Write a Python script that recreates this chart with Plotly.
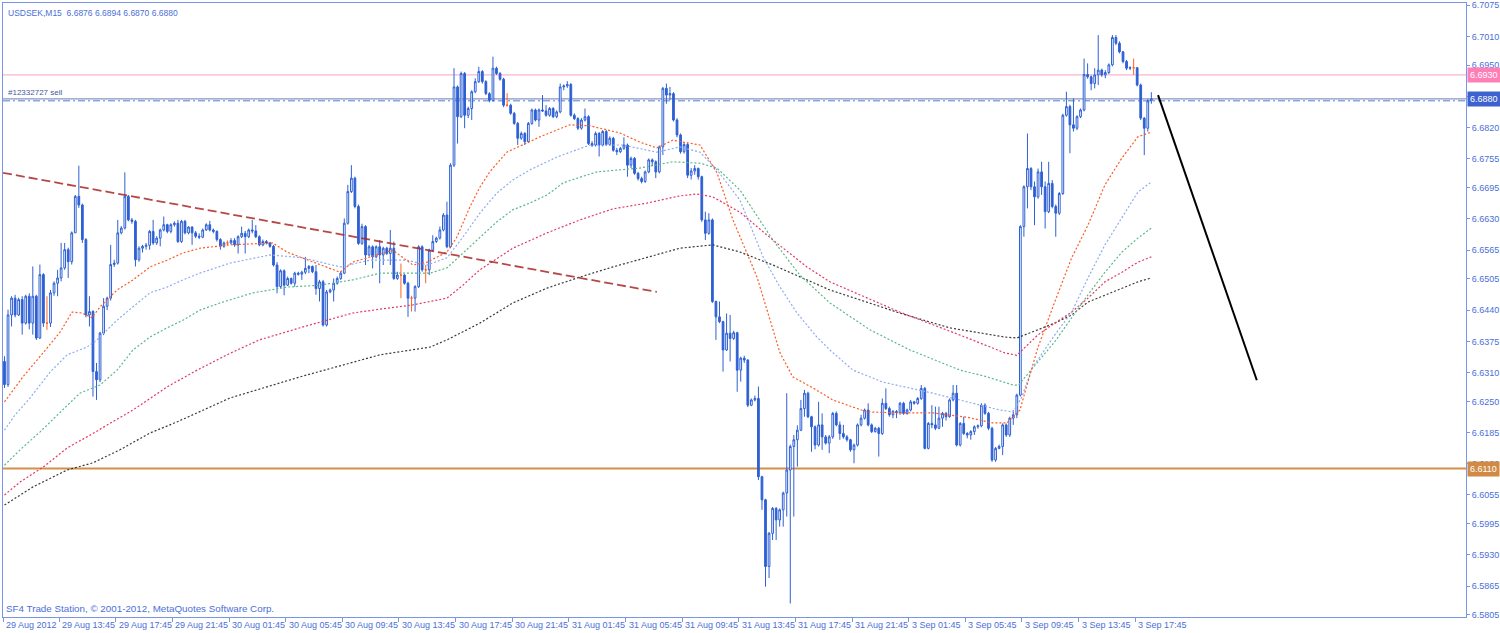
import plotly.graph_objects as go

# ---------------- data (USDSEK M15) ----------------
opens = [6.6333, 6.6285, 6.6430, 6.6465, 6.6430, 6.6462, 6.6413, 6.6469, 6.6413, 6.6469,
 6.6382, 6.6514, 6.6413, 6.6413, 6.6476, 6.6496, 6.6507, 6.6528, 6.6566, 6.6541,
 6.6601, 6.6677, 6.6659, 6.6587, 6.6430, 6.6437, 6.6312, 6.6295, 6.6392, 6.6448,
 6.6465, 6.6535, 6.6538, 6.6601, 6.6611, 6.6677, 6.6628, 6.6625, 6.6545, 6.6569,
 6.6573, 6.6575, 6.6604, 6.6580, 6.6590, 6.6607, 6.6618, 6.6604, 6.6618, 6.6621,
 6.6583, 6.6625, 6.6601, 6.6613, 6.6601, 6.6594, 6.6592, 6.6607, 6.6618, 6.6607,
 6.6604, 6.6587, 6.6573, 6.6580, 6.6580, 6.6585, 6.6576, 6.6593, 6.6600, 6.6593,
 6.6607, 6.6605, 6.6593, 6.6576, 6.6583, 6.6580, 6.6573, 6.6534, 6.6489, 6.6522,
 6.6492, 6.6506, 6.6496, 6.6517, 6.6515, 6.6519, 6.6527, 6.6531, 6.6520, 6.6485,
 6.6499, 6.6409, 6.6478, 6.6482, 6.6496, 6.6506, 6.6517, 6.6621, 6.6687, 6.6715,
 6.6656, 6.6579, 6.6614, 6.6555, 6.6572, 6.6551, 6.6572, 6.6555, 6.6569, 6.6558,
 6.6569, 6.6506, 6.6513, 6.6513, 6.6496, 6.6465, 6.6465, 6.6489, 6.6572, 6.6524,
 6.6524, 6.6565, 6.6583, 6.6590, 6.6607, 6.6638, 6.6572, 6.6742, 6.6905, 6.6843,
 6.6933, 6.6846, 6.6860, 6.6895, 6.6916, 6.6937, 6.6916, 6.6891, 6.6877, 6.6944,
 6.6933, 6.6921, 6.6867, 6.6867, 6.6850, 6.6829, 6.6798, 6.6808, 6.6791, 6.6829,
 6.6857, 6.6836, 6.6857, 6.6855, 6.6846, 6.6860, 6.6843, 6.6853, 6.6905, 6.6907,
 6.6910, 6.6846, 6.6839, 6.6819, 6.6836, 6.6843, 6.6787, 6.6784, 6.6808, 6.6784,
 6.6812, 6.6785, 6.6798, 6.6773, 6.6770, 6.6777, 6.6784, 6.6742, 6.6756, 6.6725,
 6.6714, 6.6708, 6.6728, 6.6753, 6.6749, 6.6728, 6.6780, 6.6902, 6.6888, 6.6891,
 6.6836, 6.6805, 6.6770, 6.6785, 6.6721, 6.6730, 6.6735, 6.6718, 6.6628, 6.6600,
 6.6628, 6.6458, 6.6426, 6.6416, 6.6357, 6.6392, 6.6381, 6.6393, 6.6315, 6.6340,
 6.6336, 6.6242, 6.6253, 6.6256, 6.6093, 6.6045, 6.5906, 6.5975, 6.6027, 6.6003,
 6.6024, 6.6059, 6.6107, 6.6156, 6.6170, 6.6190, 6.6235, 6.6267, 6.6218, 6.6197,
 6.6159, 6.6201, 6.6176, 6.6163, 6.6176, 6.6225, 6.6201, 6.6183, 6.6176, 6.6170,
 6.6149, 6.6159, 6.6201, 6.6215, 6.6232, 6.6201, 6.6187, 6.6194, 6.6183, 6.6246,
 6.6235, 6.6222, 6.6229, 6.6227, 6.6246, 6.6225, 6.6232, 6.6249, 6.6246, 6.6256,
 6.6277, 6.6152, 6.6204, 6.6201, 6.6194, 6.6215, 6.6225, 6.6218, 6.6253, 6.6267,
 6.6159, 6.6204, 6.6183, 6.6180, 6.6187, 6.6197, 6.6199, 6.6242, 6.6225, 6.6194,
 6.6128, 6.6152, 6.6156, 6.6201, 6.6180, 6.6215, 6.6222, 6.6263, 6.6614, 6.6697,
 6.6735, 6.6697, 6.6676, 6.6728, 6.6697, 6.6645, 6.6704, 6.6656, 6.6642, 6.6683,
 6.6846, 6.6864, 6.6826, 6.6819, 6.6843, 6.6857, 6.6931, 6.6926, 6.6912, 6.6930,
 6.6940, 6.6930, 6.6935, 6.6951, 6.7008, 6.6996, 6.6978, 6.6958, 6.6944, 6.6945,
 6.6945, 6.6909, 6.6840, 6.6819, 6.6876]

highs = [6.6344, 6.6441, 6.6469, 6.6472, 6.6466, 6.6469, 6.6472, 6.6475, 6.6531, 6.6472,
 6.6535, 6.6517, 6.6469, 6.6482, 6.6500, 6.6524, 6.6580, 6.6580, 6.6570, 6.6604,
 6.6680, 6.6741, 6.6662, 6.6590, 6.6469, 6.6440, 6.6330, 6.6395, 6.6465, 6.6468,
 6.6576, 6.6545, 6.6628, 6.6615, 6.6727, 6.6680, 6.6632, 6.6628, 6.6573, 6.6576,
 6.6580, 6.6607, 6.6628, 6.6594, 6.6610, 6.6635, 6.6620, 6.6621, 6.6625, 6.6628,
 6.6628, 6.6628, 6.6615, 6.6615, 6.6605, 6.6600, 6.6610, 6.6621, 6.6626, 6.6610,
 6.6606, 6.6590, 6.6583, 6.6585, 6.6590, 6.6590, 6.6596, 6.6614, 6.6605, 6.6610,
 6.6628, 6.6617, 6.6596, 6.6587, 6.6586, 6.6582, 6.6576, 6.6540, 6.6525, 6.6525,
 6.6510, 6.6508, 6.6520, 6.6520, 6.6522, 6.6551, 6.6534, 6.6533, 6.6534, 6.6503,
 6.6503, 6.6482, 6.6485, 6.6506, 6.6510, 6.6520, 6.6631, 6.6701, 6.6742, 6.6718,
 6.6660, 6.6620, 6.6617, 6.6576, 6.6575, 6.6575, 6.6586, 6.6572, 6.6572, 6.6607,
 6.6583, 6.6520, 6.6537, 6.6515, 6.6499, 6.6470, 6.6492, 6.6575, 6.6575, 6.6534,
 6.6568, 6.6596, 6.6593, 6.6614, 6.6642, 6.6666, 6.6746, 6.6944, 6.6908, 6.6937,
 6.6936, 6.6864, 6.6898, 6.6923, 6.6947, 6.6940, 6.6919, 6.6894, 6.6968, 6.6947,
 6.6936, 6.6924, 6.6892, 6.6870, 6.6853, 6.6832, 6.6812, 6.6811, 6.6832, 6.6860,
 6.6860, 6.6860, 6.6888, 6.6867, 6.6863, 6.6863, 6.6856, 6.6912, 6.6910, 6.6917,
 6.6913, 6.6850, 6.6842, 6.6840, 6.6860, 6.6846, 6.6792, 6.6812, 6.6811, 6.6815,
 6.6815, 6.6802, 6.6801, 6.6778, 6.6780, 6.6800, 6.6787, 6.6760, 6.6759, 6.6728,
 6.6718, 6.6731, 6.6756, 6.6756, 6.6752, 6.6783, 6.6905, 6.6912, 6.6905, 6.6894,
 6.6840, 6.6808, 6.6790, 6.6788, 6.6736, 6.6742, 6.6737, 6.6720, 6.6645, 6.6642,
 6.6631, 6.6460, 6.6458, 6.6418, 6.6433, 6.6430, 6.6397, 6.6395, 6.6343, 6.6345,
 6.6338, 6.6256, 6.6262, 6.6281, 6.6095, 6.6047, 6.5978, 6.6030, 6.6030, 6.6027,
 6.6062, 6.6267, 6.6160, 6.6180, 6.6200, 6.6253, 6.6274, 6.6270, 6.6220, 6.6200,
 6.6249, 6.6225, 6.6180, 6.6180, 6.6228, 6.6229, 6.6208, 6.6201, 6.6180, 6.6172,
 6.6162, 6.6204, 6.6222, 6.6235, 6.6246, 6.6204, 6.6197, 6.6197, 6.6256, 6.6277,
 6.6239, 6.6232, 6.6232, 6.6249, 6.6249, 6.6235, 6.6253, 6.6251, 6.6259, 6.6284,
 6.6280, 6.6207, 6.6242, 6.6239, 6.6239, 6.6228, 6.6228, 6.6256, 6.6284, 6.6284,
 6.6207, 6.6218, 6.6186, 6.6190, 6.6200, 6.6202, 6.6246, 6.6246, 6.6228, 6.6197,
 6.6155, 6.6160, 6.6204, 6.6204, 6.6218, 6.6232, 6.6266, 6.6617, 6.6700, 6.6808,
 6.6738, 6.6708, 6.6735, 6.6749, 6.6708, 6.6749, 6.6711, 6.6660, 6.6686, 6.6849,
 6.6895, 6.6868, 6.6881, 6.6846, 6.6860, 6.6964, 6.6954, 6.6929, 6.6944, 6.7013,
 6.6943, 6.6940, 6.6954, 6.7013, 6.7013, 6.7000, 6.6980, 6.6961, 6.6948, 6.6964,
 6.6946, 6.6912, 6.6842, 6.6880, 6.6894]

lows = [6.6278, 6.6280, 6.6406, 6.6425, 6.6428, 6.6389, 6.6410, 6.6400, 6.6389, 6.6378,
 6.6380, 6.6405, 6.6399, 6.6405, 6.6470, 6.6469, 6.6500, 6.6524, 6.6507, 6.6535,
 6.6601, 6.6653, 6.6580, 6.6425, 6.6406, 6.6260, 6.6253, 6.6290, 6.6388, 6.6440,
 6.6460, 6.6530, 6.6535, 6.6598, 6.6608, 6.6625, 6.6620, 6.6531, 6.6541, 6.6560,
 6.6566, 6.6566, 6.6576, 6.6576, 6.6573, 6.6604, 6.6600, 6.6600, 6.6614, 6.6580,
 6.6580, 6.6598, 6.6598, 6.6576, 6.6590, 6.6588, 6.6590, 6.6605, 6.6604, 6.6600,
 6.6583, 6.6566, 6.6570, 6.6575, 6.6577, 6.6572, 6.6558, 6.6590, 6.6558, 6.6590,
 6.6600, 6.6590, 6.6573, 6.6573, 6.6577, 6.6570, 6.6531, 6.6475, 6.6485, 6.6471,
 6.6490, 6.6493, 6.6489, 6.6512, 6.6503, 6.6515, 6.6517, 6.6517, 6.6472, 6.6458,
 6.6406, 6.6406, 6.6475, 6.6458, 6.6493, 6.6503, 6.6515, 6.6618, 6.6684, 6.6652,
 6.6576, 6.6576, 6.6534, 6.6552, 6.6527, 6.6548, 6.6496, 6.6534, 6.6555, 6.6534,
 6.6503, 6.6503, 6.6465, 6.6493, 6.6426, 6.6437, 6.6437, 6.6486, 6.6520, 6.6496,
 6.6513, 6.6562, 6.6580, 6.6587, 6.6604, 6.6569, 6.6569, 6.6738, 6.6787, 6.6840,
 6.6819, 6.6840, 6.6836, 6.6892, 6.6913, 6.6912, 6.6888, 6.6873, 6.6874, 6.6930,
 6.6918, 6.6863, 6.6864, 6.6847, 6.6826, 6.6784, 6.6795, 6.6784, 6.6788, 6.6826,
 6.6833, 6.6822, 6.6853, 6.6843, 6.6843, 6.6840, 6.6840, 6.6850, 6.6898, 6.6903,
 6.6843, 6.6836, 6.6815, 6.6816, 6.6833, 6.6784, 6.6780, 6.6781, 6.6760, 6.6781,
 6.6782, 6.6782, 6.6770, 6.6763, 6.6767, 6.6774, 6.6718, 6.6736, 6.6722, 6.6710,
 6.6704, 6.6705, 6.6725, 6.6740, 6.6715, 6.6725, 6.6763, 6.6870, 6.6878, 6.6833,
 6.6800, 6.6766, 6.6766, 6.6715, 6.6712, 6.6722, 6.6712, 6.6624, 6.6586, 6.6597,
 6.6455, 6.6378, 6.6413, 6.6312, 6.6355, 6.6333, 6.6378, 6.6270, 6.6291, 6.6330,
 6.6238, 6.6240, 6.6250, 6.6086, 6.6024, 6.5864, 6.5882, 6.5961, 6.5961, 6.5989,
 6.5989, 6.6010, 6.5829, 6.6010, 6.6114, 6.6188, 6.6218, 6.6215, 6.6145, 6.6150,
 6.6156, 6.6149, 6.6160, 6.6142, 6.6172, 6.6198, 6.6170, 6.6172, 6.6166, 6.6145,
 6.6121, 6.6156, 6.6198, 6.6212, 6.6198, 6.6184, 6.6185, 6.6135, 6.6180, 6.6232,
 6.6218, 6.6215, 6.6215, 6.6222, 6.6222, 6.6222, 6.6229, 6.6243, 6.6243, 6.6253,
 6.6150, 6.6150, 6.6194, 6.6190, 6.6192, 6.6197, 6.6210, 6.6216, 6.6250, 6.6156,
 6.6156, 6.6180, 6.6173, 6.6170, 6.6180, 6.6193, 6.6196, 6.6222, 6.6190, 6.6124,
 6.6124, 6.6150, 6.6138, 6.6176, 6.6176, 6.6201, 6.6215, 6.6260, 6.6593, 6.6652,
 6.6690, 6.6617, 6.6672, 6.6680, 6.6610, 6.6642, 6.6652, 6.6593, 6.6638, 6.6680,
 6.6843, 6.6767, 6.6812, 6.6815, 6.6840, 6.6854, 6.6922, 6.6898, 6.6902, 6.6909,
 6.6926, 6.6923, 6.6932, 6.6948, 6.6992, 6.6975, 6.6954, 6.6940, 6.6940, 6.6930,
 6.6906, 6.6836, 6.6763, 6.6812, 6.6870]

closes = [6.6285, 6.6430, 6.6465, 6.6430, 6.6462, 6.6413, 6.6469, 6.6413, 6.6469, 6.6382,
 6.6514, 6.6413, 6.6413, 6.6476, 6.6496, 6.6507, 6.6528, 6.6566, 6.6541, 6.6601,
 6.6677, 6.6659, 6.6587, 6.6430, 6.6437, 6.6312, 6.6295, 6.6392, 6.6448, 6.6465,
 6.6535, 6.6538, 6.6601, 6.6611, 6.6677, 6.6628, 6.6625, 6.6545, 6.6569, 6.6573,
 6.6575, 6.6604, 6.6580, 6.6590, 6.6607, 6.6618, 6.6604, 6.6618, 6.6621, 6.6583,
 6.6625, 6.6601, 6.6613, 6.6601, 6.6594, 6.6592, 6.6607, 6.6618, 6.6607, 6.6604,
 6.6587, 6.6573, 6.6580, 6.6580, 6.6585, 6.6576, 6.6593, 6.6600, 6.6593, 6.6607,
 6.6605, 6.6593, 6.6576, 6.6583, 6.6580, 6.6573, 6.6534, 6.6489, 6.6522, 6.6492,
 6.6506, 6.6496, 6.6517, 6.6515, 6.6519, 6.6527, 6.6531, 6.6520, 6.6485, 6.6499,
 6.6409, 6.6478, 6.6482, 6.6496, 6.6506, 6.6517, 6.6621, 6.6687, 6.6715, 6.6656,
 6.6579, 6.6614, 6.6555, 6.6572, 6.6551, 6.6572, 6.6555, 6.6569, 6.6558, 6.6569,
 6.6506, 6.6513, 6.6513, 6.6496, 6.6465, 6.6465, 6.6489, 6.6572, 6.6524, 6.6524,
 6.6565, 6.6583, 6.6590, 6.6607, 6.6638, 6.6572, 6.6742, 6.6905, 6.6843, 6.6933,
 6.6846, 6.6860, 6.6895, 6.6916, 6.6937, 6.6916, 6.6891, 6.6877, 6.6944, 6.6933,
 6.6921, 6.6867, 6.6867, 6.6850, 6.6829, 6.6798, 6.6808, 6.6791, 6.6829, 6.6857,
 6.6836, 6.6857, 6.6855, 6.6846, 6.6860, 6.6843, 6.6853, 6.6905, 6.6907, 6.6910,
 6.6846, 6.6839, 6.6819, 6.6836, 6.6843, 6.6787, 6.6784, 6.6808, 6.6784, 6.6812,
 6.6785, 6.6798, 6.6773, 6.6770, 6.6777, 6.6784, 6.6742, 6.6756, 6.6725, 6.6714,
 6.6708, 6.6728, 6.6753, 6.6749, 6.6728, 6.6780, 6.6902, 6.6888, 6.6891, 6.6836,
 6.6805, 6.6770, 6.6785, 6.6721, 6.6730, 6.6735, 6.6718, 6.6628, 6.6600, 6.6628,
 6.6458, 6.6426, 6.6416, 6.6357, 6.6392, 6.6381, 6.6393, 6.6315, 6.6340, 6.6336,
 6.6242, 6.6253, 6.6256, 6.6093, 6.6045, 6.5906, 6.5975, 6.6027, 6.6003, 6.6024,
 6.6059, 6.6107, 6.6156, 6.6170, 6.6190, 6.6235, 6.6267, 6.6218, 6.6197, 6.6159,
 6.6201, 6.6176, 6.6163, 6.6176, 6.6225, 6.6201, 6.6183, 6.6176, 6.6170, 6.6149,
 6.6159, 6.6201, 6.6215, 6.6232, 6.6201, 6.6187, 6.6194, 6.6183, 6.6246, 6.6235,
 6.6222, 6.6229, 6.6227, 6.6246, 6.6225, 6.6232, 6.6249, 6.6246, 6.6256, 6.6277,
 6.6152, 6.6204, 6.6201, 6.6194, 6.6215, 6.6225, 6.6218, 6.6253, 6.6267, 6.6159,
 6.6204, 6.6183, 6.6180, 6.6187, 6.6197, 6.6199, 6.6242, 6.6225, 6.6194, 6.6128,
 6.6152, 6.6156, 6.6201, 6.6180, 6.6215, 6.6222, 6.6263, 6.6614, 6.6697, 6.6735,
 6.6697, 6.6676, 6.6728, 6.6697, 6.6645, 6.6704, 6.6656, 6.6642, 6.6683, 6.6846,
 6.6864, 6.6826, 6.6819, 6.6843, 6.6857, 6.6931, 6.6926, 6.6912, 6.6930, 6.6940,
 6.6930, 6.6935, 6.6951, 6.7008, 6.6996, 6.6978, 6.6958, 6.6944, 6.6945, 6.6945,
 6.6909, 6.6840, 6.6819, 6.6876, 6.6880]

# time-axis labels (every 16 bars)
tick_bars = [0, 16, 32, 48, 64, 80, 96, 112, 128, 144, 160, 176, 192, 208, 224, 240, 256, 272, 288, 304, 320]
tick_labels = ["29 Aug 2012", "29 Aug 13:45", "29 Aug 17:45", "29 Aug 21:45", "30 Aug 01:45",
               "30 Aug 05:45", "30 Aug 09:45", "30 Aug 13:45", "30 Aug 17:45", "30 Aug 21:45",
               "31 Aug 01:45", "31 Aug 05:45", "31 Aug 09:45", "31 Aug 13:45", "31 Aug 17:45",
               "31 Aug 21:45", "3 Sep 01:45", "3 Sep 05:45", "3 Sep 09:45", "3 Sep 13:45",
               "3 Sep 17:45"]

price_ticks = [6.7075, 6.7010, 6.6950, 6.6885, 6.6820, 6.6755, 6.6695, 6.6630, 6.6565, 6.6505,
               6.6440, 6.6375, 6.6310, 6.6250, 6.6185, 6.6120, 6.6055, 6.5995, 6.5930, 6.5865, 6.5805]

# moving averages (sampled along the drawn lines: bar position, price)
ma_orange_x = [0, 5.2, 10.9, 15.7, 19.1, 21.9, 24.7, 27, 31.8, 36.3, 41.1, 45.9, 50.4, 55.2, 63.7, 75.8, 79.8, 89.1, 94.8, 98.4,
               103.2, 109.7, 115.4, 119.4, 125, 127.8, 131.5, 134.3, 137.1, 141.9, 151.3, 159.7, 165.4, 173.9, 179.5, 184.3, 188.8, 196.5, 201.3, 205.8,
               212.6, 216.2, 219.1, 222.7, 228.4, 234, 243.6, 252.9, 262.3, 271.9, 279.2, 283.2, 286.9, 288.3, 291.9, 296.7, 301.5, 306.1, 310.9, 315.7,
               320.2, 324]
ma_orange_y = [6.6249, 6.6301, 6.6351, 6.6394, 6.6436, 6.6434, 6.6424, 6.6447, 6.6482, 6.6503, 6.6530, 6.6544, 6.6559, 6.6569, 6.6576, 6.6580, 6.6561, 6.6534, 6.6519, 6.6540,
               6.6551, 6.6565, 6.6534, 6.6540, 6.6561, 6.6592, 6.6655, 6.6696, 6.6728, 6.6769, 6.6801, 6.6826, 6.6824, 6.6809, 6.6790, 6.6778, 6.6794, 6.6784, 6.6726, 6.6628,
               6.6509, 6.6419, 6.6351, 6.6301, 6.6278, 6.6253, 6.6228, 6.6226, 6.6226, 6.6217, 6.6205, 6.6205, 6.6232, 6.6269, 6.6361, 6.6457, 6.6549, 6.6617, 6.6701, 6.6757,
               6.6801, 6.6811]

ma_blue_x = [0, 3, 7.2, 12.9, 17.7, 23.3, 26.1, 31.8, 36.3, 41.1, 45.9, 50.4, 55.2, 63.7, 75, 84.3, 94.8, 103.2, 113.7, 119.4,
             125, 129.5, 134.3, 139.1, 143.6, 148.4, 156.1, 165.4, 174.7, 184.3, 190.8, 196.5, 201.3, 207.8, 214.3, 219.1, 223.9, 229.5, 233.2, 239.7,
             248.2, 257.8, 262.3, 271.9, 281.2, 284.9, 287.3, 290.3, 296.7, 301.5, 306.1, 310.9, 315.7, 320.2, 324]
ma_blue_y = [6.6190, 6.6222, 6.6257, 6.6311, 6.6347, 6.6363, 6.6378, 6.6419, 6.6447, 6.6476, 6.6488, 6.6503, 6.6517, 6.6538, 6.6555, 6.6549, 6.6530, 6.6544, 6.6544, 6.6534,
             6.6549, 6.6592, 6.6642, 6.6684, 6.6711, 6.6732, 6.6759, 6.6784, 6.6784, 6.6769, 6.6780, 6.6769, 6.6732, 6.6669, 6.6551, 6.6488, 6.6434, 6.6384, 6.6357, 6.6315,
             6.6290, 6.6274, 6.6267, 6.6249, 6.6232, 6.6228, 6.6257, 6.6319, 6.6388, 6.6436, 6.6507, 6.6576, 6.6632, 6.6686, 6.6707]

ma_green_x = [0, 4.4, 10, 15.7, 21.3, 27, 31.8, 36.3, 41.1, 45.9, 50.4, 55.2, 60.9, 70.2, 79.8, 89.1, 98.4, 106.1, 120.2, 125,
              129.5, 134.3, 139.1, 143.6, 148.4, 153.3, 157.8, 162.6, 167.4, 179.5, 188.8, 196.5, 201.3, 207.8, 217.1, 224.7, 233.2, 244.5, 255.8, 270,
              277.6, 284.9, 286.5, 291.9, 296.7, 301.5, 306.1, 310.9, 315.7, 320.2, 324]
ma_green_y = [6.6117, 6.6149, 6.6186, 6.6226, 6.6267, 6.6284, 6.6315, 6.6357, 6.6384, 6.6403, 6.6419, 6.6440, 6.6455, 6.6476, 6.6488, 6.6492, 6.6503, 6.6517, 6.6517, 6.6528,
              6.6559, 6.6592, 6.6624, 6.6649, 6.6663, 6.6680, 6.6705, 6.6717, 6.6728, 6.6736, 6.6749, 6.6746, 6.6736, 6.6690, 6.6586, 6.6513, 6.6455, 6.6399, 6.6357, 6.6315,
              6.6301, 6.6284, 6.6284, 6.6332, 6.6374, 6.6424, 6.6472, 6.6519, 6.6561, 6.6590, 6.6611]

ma_red_x = [0, 4.4, 10.9, 17.7, 23.3, 29, 36.3, 45.9, 54.4, 63.7, 72, 84.3, 98.4, 106.1, 115.4, 125, 129.5, 134.3, 143.6, 153.3,
            162.6, 171.9, 181.5, 190.8, 195.6, 200.1, 207.8, 217.1, 226.7, 233.2, 252.9, 270, 282.6, 286, 291.9, 296.7, 301.5, 306.1, 310.9, 315.7,
            320.2, 324]
ma_red_y = [6.6055, 6.6082, 6.6113, 6.6153, 6.6176, 6.6201, 6.6232, 6.6280, 6.6315, 6.6350, 6.6378, 6.6405, 6.6434, 6.6442, 6.6451, 6.6465, 6.6492, 6.6524, 6.6569, 6.6601,
            6.6628, 6.6651, 6.6663, 6.6678, 6.6682, 6.6676, 6.6644, 6.6586, 6.6530, 6.6499, 6.6436, 6.6388, 6.6351, 6.6346, 6.6388, 6.6413, 6.6436, 6.6465, 6.6499, 6.6519,
            6.6540, 6.6551]

ma_black_x = [0, 8.1, 17.7, 25, 32.6, 41.1, 48.7, 55.2, 63.7, 83.5, 97.6, 106.1, 120.2, 125, 134.3, 143.6, 153.3, 162.6, 171.9, 181.5,
              190.8, 200.1, 207.8, 217.1, 226.7, 233.2, 252.9, 267.1, 282.6, 286, 291.9, 296.7, 301.5, 306.1, 310.9, 315.7, 320.2, 324]
ma_black_y = [6.6034, 6.6072, 6.6107, 6.6122, 6.6149, 6.6184, 6.6207, 6.6228, 6.6257, 6.6301, 6.6330, 6.6347, 6.6363, 6.6378, 6.6413, 6.6455, 6.6486, 6.6509, 6.6530, 6.6549,
              6.6569, 6.6576, 6.6561, 6.6534, 6.6503, 6.6482, 6.6434, 6.6403, 6.6384, 6.6382, 6.6399, 6.6413, 6.6430, 6.6457, 6.6471, 6.6486, 6.6499, 6.6507]

# drawn objects
trend_x = [-0.4, 184.3]
trend_y = [6.6726, 6.6478]
arrow_x = [325.9, 353.8]
arrow_y = [6.6888, 6.6294]

level_pink = 6.6930
level_bid = 6.6880
level_order = 6.6876
level_orange = 6.6110

# ---------------- figure ----------------
FONT = "Tahoma, 'Liberation Sans', Arial, sans-serif"
BLUE = "#2e60d4"
AXIS = "#7896e6"
TXT = "#4b6fd8"
DOJI = "#ff6420"
X_MIN, X_MAX = -0.42, 412.9

n = min(len(opens), len(highs), len(lows), len(closes))
bars = list(range(n))
normal = [i for i in bars if opens[i] != closes[i]]
doji = [i for i in bars if opens[i] == closes[i]]

fig = go.Figure()

fig.add_trace(go.Candlestick(
    x=[bars[i] for i in normal],
    open=[opens[i] for i in normal], high=[highs[i] for i in normal],
    low=[lows[i] for i in normal], close=[closes[i] for i in normal],
    increasing=dict(line=dict(color=BLUE, width=1), fillcolor="white"),
    decreasing=dict(line=dict(color=BLUE, width=1), fillcolor=BLUE),
    whiskerwidth=0, hoverinfo="skip", showlegend=False))

fig.add_trace(go.Candlestick(
    x=[bars[i] for i in doji],
    open=[opens[i] for i in doji], high=[highs[i] for i in doji],
    low=[lows[i] for i in doji], close=[closes[i] for i in doji],
    increasing=dict(line=dict(color=DOJI, width=1), fillcolor=DOJI),
    decreasing=dict(line=dict(color=DOJI, width=1), fillcolor=DOJI),
    whiskerwidth=0, hoverinfo="skip", showlegend=False))

ma_specs = [
    (ma_black_x, ma_black_y, "#3a3a3a"),
    (ma_red_x, ma_red_y, "#e23a62"),
    (ma_green_x, ma_green_y, "#58b888"),
    (ma_blue_x, ma_blue_y, "#8cacf2"),
    (ma_orange_x, ma_orange_y, "#ff5a24"),
]
for xs, ys, col in ma_specs:
    fig.add_trace(go.Scatter(x=xs, y=ys, mode="lines",
                             line=dict(color=col, width=1.2, dash="2px,2px"),
                             hoverinfo="skip", showlegend=False))

fig.add_trace(go.Scatter(x=trend_x, y=trend_y, mode="lines",
                         line=dict(color="rgba(170,40,40,0.85)", width=1.8, dash="9px,4px"),
                         hoverinfo="skip", showlegend=False))
fig.add_trace(go.Scatter(x=arrow_x, y=arrow_y, mode="lines",
                         line=dict(color="black", width=2),
                         hoverinfo="skip", showlegend=False))

shapes = [
    dict(type="line", xref="paper", x0=0, x1=1, yref="y", y0=level_pink, y1=level_pink,
         line=dict(color="#f7a3c6", width=1), layer="below"),
    dict(type="line", xref="paper", x0=0, x1=1, yref="y", y0=level_bid, y1=level_bid,
         line=dict(color="#6a7ab4", width=1), layer="below"),
    dict(type="line", xref="paper", x0=0, x1=1, yref="y", y0=level_order, y1=level_order,
         line=dict(color="#4f7fcc", width=1, dash="7px,3px,2px,3px"), layer="below"),
    dict(type="line", xref="paper", x0=0, x1=1, yref="y", y0=level_orange, y1=level_orange,
         line=dict(color="#d4904a", width=2), layer="below"),
]

# time labels as paper-positioned annotations (left-aligned to the tick, MT4 style)
annotations = []
tick_pos = [max(b - 0.55, X_MIN + 0.01) for b in tick_bars]
for p, lab in zip(tick_pos, tick_labels):
    px = (p - X_MIN) / (X_MAX - X_MIN)
    annotations.append(dict(x=px, xref="paper", y=0, yref="paper", yanchor="top", xanchor="left",
                            yshift=-1, xshift=1, text=lab, showarrow=False,
                            font=dict(family=FONT, size=9, color=TXT)))

for lvl, bg in [(level_pink, "#ff7eb6"), (level_bid, "#3d62cf"), (level_orange, "#d08a44")]:
    annotations.append(dict(x=1, xref="paper", xanchor="left", xshift=1, y=lvl, yref="y",
                            yanchor="middle", text=f"{lvl:.4f}", showarrow=False,
                            bgcolor=bg, borderpad=2,
                            font=dict(family=FONT, size=9, color="white")))

annotations.append(dict(x=0, xref="paper", xanchor="left", xshift=3, y=1, yref="paper", yanchor="top",
                        yshift=-3, text="USDSEK,M15  6.6876 6.6894 6.6870 6.6880", showarrow=False,
                        font=dict(family=FONT, size=8.5, color=TXT)))
annotations.append(dict(x=0, xref="paper", xanchor="left", xshift=1, y=0, yref="paper", yanchor="bottom",
                        yshift=1, text="SF4 Trade Station, © 2001-2012, MetaQuotes Software Corp.",
                        showarrow=False, font=dict(family=FONT, size=9.8, color=TXT)))
annotations.append(dict(x=0, xref="paper", xanchor="left", xshift=3, y=level_bid, yref="y",
                        yanchor="bottom", yshift=0, text="#12332727 sell", showarrow=False,
                        font=dict(family=FONT, size=8, color="#3f5a9c")))

fig.update_layout(
    width=1500, height=633,
    margin=dict(l=3, r=34, t=3, b=16, autoexpand=False),
    paper_bgcolor="white", plot_bgcolor="white",
    showlegend=False, hovermode=False,
    shapes=shapes, annotations=annotations,
    xaxis=dict(range=[X_MIN, X_MAX], rangeslider=dict(visible=False), showgrid=False,
               zeroline=False, showline=True, mirror=True, linecolor=AXIS, linewidth=1,
               ticks="outside", ticklen=4, tickcolor=AXIS,
               tickvals=tick_pos, showticklabels=False,
               fixedrange=True),
    yaxis=dict(range=[6.58008, 6.70798], side="right", showgrid=False, zeroline=False,
               showline=True, mirror=True, linecolor=AXIS, linewidth=1,
               ticks="outside", ticklen=3, tickcolor=AXIS,
               tickvals=price_ticks, ticktext=[f"{v:.4f}" for v in price_ticks],
               tickfont=dict(family=FONT, size=9, color=TXT), fixedrange=True),
)

fig.write_html("out.html",
               config={"displayModeBar": False},
               post_script="document.body.style.margin='0px';document.body.style.overflow='hidden';")
